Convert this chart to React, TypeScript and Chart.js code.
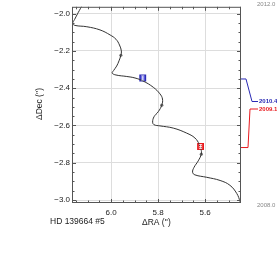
import React, { useEffect, useRef } from "react";
import { Chart, registerables } from "chart.js";
Chart.register(...registerables);

// Model track (ΔRA, ΔDec in arcsec)
const curveRA = [6.119, 6.140, 6.155, 6.163, 6.153, 6.103, 6.047, 6.004, 5.979, 5.964, 5.956, 5.958, 5.966, 5.976, 5.989, 5.995, 5.979, 5.933, 5.898, 5.864, 5.820, 5.792, 5.781, 5.784, 5.799, 5.817, 5.823, 5.817, 5.792, 5.735, 5.678, 5.643, 5.624, 5.617, 5.616, 5.629, 5.647, 5.653, 5.643, 5.593, 5.536, 5.494, 5.465, 5.451, 5.447];
const curveDec = [-1.947, -1.995, -2.031, -2.053, -2.063, -2.070, -2.087, -2.114, -2.137, -2.168, -2.200, -2.223, -2.253, -2.281, -2.305, -2.319, -2.329, -2.337, -2.345, -2.361, -2.395, -2.430, -2.458, -2.491, -2.526, -2.553, -2.582, -2.596, -2.602, -2.614, -2.641, -2.667, -2.702, -2.727, -2.754, -2.790, -2.825, -2.851, -2.865, -2.878, -2.895, -2.921, -2.965, -3.009, -3.037];

// Yearly epoch dots on the track
const epochRA = [5.958, 5.784, 5.616];
const epochDec = [-2.223, -2.491, -2.754];

// Observations
const obsLabels = ["2010.4", "2009.1"];
const obsRA = [5.865, 5.619];
const obsDec = [-2.345, -2.713];
const obsErrRA = [0.006, 0.006];
const obsErrDec = [0.011, 0.011];
const obsColors = ["#2a2ab4", "#e8191e"];
const obsFill = ["rgba(45,45,210,0.85)", "rgba(235,35,35,0.85)"];

// Axis ticks
const xTicks = [5.6, 5.8, 6.0];
const yTicks = [-3.0, -2.8, -2.6, -2.4, -2.2, -2.0];
const timeLabels = ["2012.0", "2008.0"];

const FONT = "'Liberation Sans', Arial, Helvetica, sans-serif";

const decor = {
  id: "decor",
  afterDatasetsDraw(chart: any) {
    const ctx = chart.ctx;
    const xs = chart.scales.x;
    const ys = chart.scales.y;
    ctx.save();
    // error bars
    for (let i = 0; i < obsRA.length; i++) {
      const px = xs.getPixelForValue(obsRA[i]);
      const py = ys.getPixelForValue(obsDec[i]);
      const x1 = xs.getPixelForValue(obsRA[i] - obsErrRA[i]);
      const x2 = xs.getPixelForValue(obsRA[i] + obsErrRA[i]);
      const y1 = ys.getPixelForValue(obsDec[i] - obsErrDec[i]);
      const y2 = ys.getPixelForValue(obsDec[i] + obsErrDec[i]);
      ctx.strokeStyle = "rgba(255,255,255,0.75)";
      ctx.lineWidth = 1;
      ctx.beginPath();
      ctx.moveTo(px, y1); ctx.lineTo(px, y2);
      ctx.moveTo(px - 1.5, y1); ctx.lineTo(px + 1.5, y1);
      ctx.moveTo(px - 1.5, y2); ctx.lineTo(px + 1.5, y2);
      ctx.moveTo(x1, py); ctx.lineTo(x2, py);
      ctx.stroke();
    }
    ctx.restore();
  },
  afterDraw(chart: any) {
    const ctx = chart.ctx;
    const { left, right, top, bottom } = chart.chartArea;
    const xs = chart.scales.x;
    const ys = chart.scales.y;
    ctx.save();
    // frame
    ctx.strokeStyle = "#555";
    ctx.lineWidth = 1;
    ctx.strokeRect(left + 0.5, top + 0.5, right - left - 1, bottom - top - 1);
    // inward ticks
    ctx.beginPath();
    const step = 0.05;
    for (let k = Math.ceil(xs.min / step - 1e-6); k * step <= xs.max + 1e-9; k++) {
      const v = k * step;
      const px = Math.round(xs.getPixelForValue(v)) + 0.5;
      const major = Math.abs(v / 0.2 - Math.round(v / 0.2)) < 1e-6;
      const len = major ? 4 : 2.5;
      ctx.moveTo(px, bottom); ctx.lineTo(px, bottom - len);
      ctx.moveTo(px, top); ctx.lineTo(px, top + len);
    }
    for (let k = Math.ceil(ys.min / step - 1e-6); k * step <= ys.max + 1e-9; k++) {
      const v = k * step;
      const py = Math.round(ys.getPixelForValue(v)) + 0.5;
      const major = Math.abs(v / 0.2 - Math.round(v / 0.2)) < 1e-6;
      const len = major ? 4 : 2.5;
      ctx.moveTo(left, py); ctx.lineTo(left + len, py);
      ctx.moveTo(right, py); ctx.lineTo(right - len, py);
    }
    ctx.stroke();

    // titles
    ctx.fillStyle = "#222";
    ctx.font = `8.5px ${FONT}`;
    ctx.textBaseline = "middle";
    ctx.textAlign = "left";
    ctx.fillText("HD 139664 #5", 50, 222);
    ctx.fillText("\u0394RA ('')", 142, 223);
    ctx.save();
    ctx.translate(40, 104);
    ctx.rotate(-Math.PI / 2);
    ctx.textAlign = "center";
    ctx.fillText("\u0394Dec ('')", 0, 0);
    ctx.restore();

    // timeline labels
    ctx.font = `6px ${FONT}`;
    ctx.fillStyle = "#888";
    ctx.fillText(timeLabels[0], 257, 4);
    ctx.fillText(timeLabels[1], 257, 205);

    // observation connectors
    const slots = [101.5, 109];
    const bends = [[246, 252], [248, 250]];
    for (let i = 0; i < obsLabels.length; i++) {
      const py = ys.getPixelForValue(obsDec[i]) + 1;
      ctx.strokeStyle = obsColors[i];
      ctx.lineWidth = 1;
      ctx.beginPath();
      ctx.moveTo(right, py);
      ctx.lineTo(bends[i][0], py);
      ctx.lineTo(bends[i][1], slots[i]);
      ctx.lineTo(258, slots[i]);
      ctx.stroke();
      ctx.fillStyle = obsColors[i];
      ctx.font = `bold 6px ${FONT}`;
      ctx.fillText(obsLabels[i], 259, slots[i]);
    }
    ctx.restore();
  },
};

const fmt = (v: number) => (v < 0 ? "\u2212" : "") + Math.abs(v).toFixed(1);

export default function App() {
  const ref = useRef<HTMLCanvasElement>(null);
  useEffect(() => {
    if (!ref.current) return;
    const chart = new Chart(ref.current, {
      type: "scatter",
      data: {
        datasets: [
          {
            data: curveRA.map((r, i) => ({ x: r, y: curveDec[i] })),
            showLine: true,
            borderColor: "#333",
            borderWidth: 1,
            pointRadius: 0,
            tension: 0.4,
          },
          {
            data: epochRA.map((r, i) => ({ x: r, y: epochDec[i] })),
            pointRadius: 1.6,
            backgroundColor: "#777",
            borderColor: "#777",
            borderWidth: 0,
          },
          {
            data: obsRA.map((r, i) => ({ x: r, y: obsDec[i] })),
            pointStyle: "rect",
            pointRadius: 4,
            backgroundColor: obsFill,
            borderColor: obsColors,
            borderWidth: 1.2,
          },
        ],
      } as any,
      options: {
        animation: false,
        responsive: false,
        layout: { padding: { left: 0, top: 3, right: 36, bottom: 0 } },
        plugins: { legend: { display: false }, tooltip: { enabled: false } },
        scales: {
          x: {
            type: "linear",
            reverse: true,
            min: 5.447,
            max: 6.166,
            afterBuildTicks: (s: any) => { s.ticks = xTicks.map((v) => ({ value: v })); },
            afterFit: (s: any) => { s.height = 66; },
            ticks: { font: { size: 8, family: FONT }, color: "#222", padding: 5, maxRotation: 0, callback: (v: any) => fmt(Number(v)) },
            grid: { color: "#dddddd", drawTicks: false },
            border: { display: false },
          },
          y: {
            type: "linear",
            min: -3.016,
            max: -1.963,
            afterBuildTicks: (s: any) => { s.ticks = yTicks.map((v) => ({ value: v })); },
            afterFit: (s: any) => { s.width = 72; },
            ticks: { font: { size: 8, family: FONT }, color: "#222", padding: 2, callback: (v: any) => fmt(Number(v)) },
            grid: { color: "#dddddd", drawTicks: false },
            border: { display: false },
          },
        },
      } as any,
      plugins: [decor],
    });
    return () => chart.destroy();
  }, []);
  return (
    <div style={{ position: "fixed", left: 0, top: 0, width: 277, height: 269, background: "#fff" }}>
      <canvas ref={ref} width={277} height={269} style={{ width: 277, height: 269 }} />
    </div>
  );
}
